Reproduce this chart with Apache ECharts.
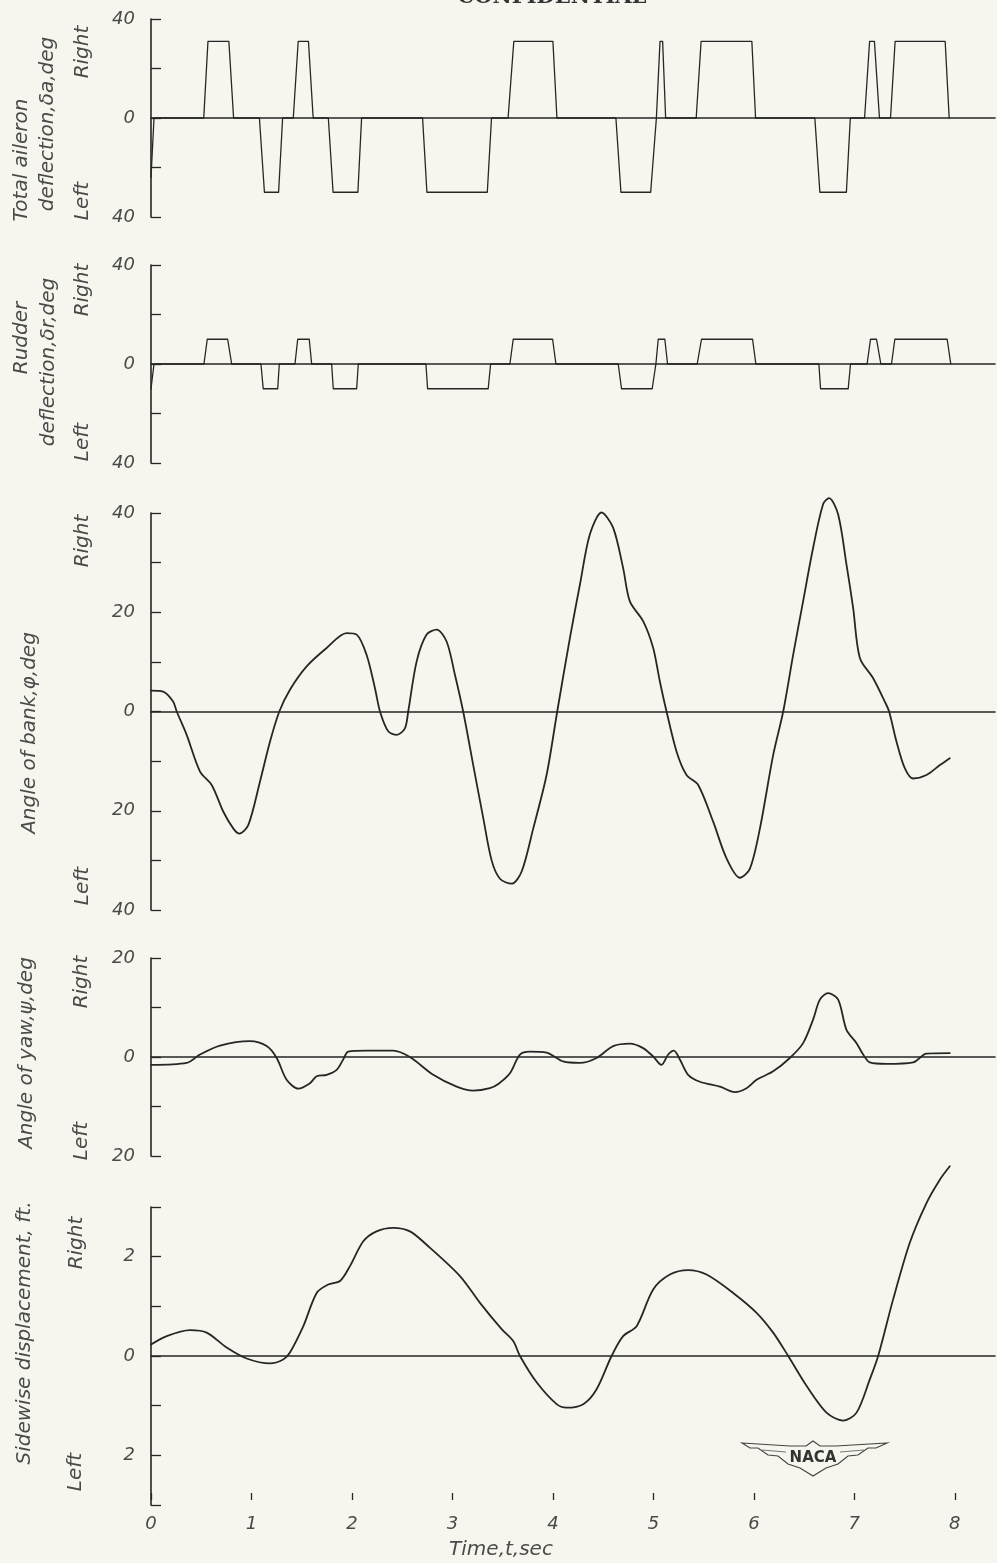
<!DOCTYPE html>
<html><head><meta charset="utf-8">
<script src="https://cdn.jsdelivr.net/npm/echarts@6/dist/echarts.min.js"></script>
<style>html,body{margin:0;padding:0;background:#f6f6ef}#c{width:997px;height:1563px}</style>
</head><body><div id="c"></div>
<script>
// ---- tick labels ----
const timeTicks = [0,1,2,3,4,5,6,7,8];
const aileronLabels = [-40,0,40];
const rudderLabels = [-40,0,40];
const bankLabels = [-40,-20,0,20,40];
const yawLabels = [-20,0,20];
const sideLabels = [-2,0,2];

// ---- series values: [time sec, value] ----
const aileron = [[0,-24],[0.03,0],[0.525,0],[0.567,31],[0.775,31],[0.822,0],
 [1.079,0],[1.129,-30],[1.270,-30],[1.310,0],
 [1.416,0],[1.465,31],[1.567,31],[1.614,0],
 [1.765,0],[1.812,-30],[2.059,-30],[2.096,0],
 [2.703,0],[2.746,-30],[3.347,-30],[3.389,0],
 [3.554,0],[3.611,31],[4.0,31],[4.04,0],
 [4.627,0],[4.677,-30],[4.973,-30],[5.03,0],[5.066,31],[5.092,31],[5.122,0],
 [5.426,0],[5.475,31],[5.98,31],[6.017,0],
 [6.607,0],[6.657,-30],[6.921,-30],[6.96,0],
 [7.102,0],[7.152,31],[7.2,31],[7.25,0],
 [7.36,0],[7.406,31],[7.904,31],[7.944,0]];

const rudder = [[0,-10],[0.03,0],[0.527,0],[0.56,10],[0.763,10],[0.803,0],
 [1.094,0],[1.117,-10],[1.261,-10],[1.277,0],
 [1.433,0],[1.46,10],[1.575,10],[1.599,0],
 [1.798,0],[1.814,-10],[2.047,-10],[2.063,0],
 [2.736,0],[2.753,-10],[3.356,-10],[3.38,0],
 [3.572,0],[3.605,10],[3.997,10],[4.03,0],
 [4.65,0],[4.683,-10],[4.988,-10],[5.025,0],[5.048,10],[5.114,10],[5.141,0],
 [5.436,0],[5.479,10],[5.987,10],[6.02,0],
 [6.647,0],[6.664,-10],[6.939,-10],[6.962,0],
 [7.127,0],[7.161,10],[7.221,10],[7.264,0],
 [7.37,0],[7.403,10],[7.924,10],[7.96,0]];

const bank = [[0.0,4.2],[0.12,4.0],[0.22,2.0],[0.256,0],[0.355,-4.7],[0.488,-12.1],[0.604,-14.8],[0.72,-20.2],[0.82,-23.6],[0.879,-24.6],[0.968,-22.9],[1.085,-14.1],[1.184,-6.1],[1.277,0],[1.383,4.4],[1.549,9.1],[1.748,12.8],[1.947,15.8],[2.047,15.5],[2.146,11.4],[2.229,4.7],[2.279,0],[2.361,-4.0],[2.445,-4.7],[2.527,-3.4],[2.56,0],[2.644,10.1],[2.743,15.5],[2.843,16.5],[2.942,14.1],[3.025,7.4],[3.107,0],[3.207,-10.8],[3.307,-21.5],[3.39,-30],[3.473,-33.7],[3.589,-34.7],[3.688,-32.3],[3.804,-23.6],[3.937,-12.8],[4.043,0],[4.169,14.8],[4.269,25.6],[4.368,35.7],[4.484,40.1],[4.6,37.0],[4.699,28.9],[4.766,22.2],[4.898,18.2],[4.998,12.8],[5.064,6.1],[5.131,0],[5.231,-8.1],[5.33,-12.8],[5.446,-14.8],[5.595,-22.2],[5.728,-29.6],[5.861,-33.5],[5.96,-31.7],[6.06,-23.6],[6.192,-8.8],[6.292,0],[6.391,11.4],[6.49,22.2],[6.59,33],[6.69,41.8],[6.749,43],[6.839,39.7],[6.922,29.6],[6.988,20.9],[7.055,10.8],[7.187,6.7],[7.303,2.0],[7.346,0],[7.42,-6.1],[7.502,-11.4],[7.585,-13.5],[7.718,-12.8],[7.851,-10.8],[7.95,-9.4]];

const yaw = [[0,-1.6],[0.355,-1.2],[0.488,0.5],[0.687,2.3],[0.985,3.2],[1.151,2.2],[1.251,-0.2],[1.35,-4.6],[1.466,-6.4],[1.582,-5.3],[1.649,-3.9],[1.748,-3.6],[1.848,-2.6],[1.913,-0.5],[1.963,1.1],[2.146,1.3],[2.411,1.3],[2.577,0],[2.809,-3.6],[3.042,-6.0],[3.207,-6.8],[3.373,-6.3],[3.46,-5.4],[3.572,-3.3],[3.672,0.5],[3.771,1.1],[3.937,0.9],[4.103,-0.9],[4.269,-1.2],[4.435,-0.2],[4.6,2.2],[4.766,2.7],[4.898,1.8],[4.998,0.1],[5.081,-1.6],[5.147,0.5],[5.204,1.3],[5.264,-0.5],[5.346,-3.6],[5.463,-5.0],[5.662,-6.0],[5.811,-7.1],[5.927,-6.3],[6.027,-4.6],[6.192,-2.9],[6.358,-0.2],[6.49,2.8],[6.59,7.6],[6.657,11.6],[6.739,12.9],[6.839,11.6],[6.922,5.5],[7.022,2.8],[7.088,0.5],[7.154,-1.1],[7.32,-1.4],[7.585,-1.1],[7.718,0.7],[7.95,0.8]];

const sidewise = [[0,0.23],[0.156,0.40],[0.388,0.52],[0.554,0.47],[0.753,0.17],[0.952,-0.05],[1.184,-0.15],[1.316,-0.07],[1.383,0.07],[1.516,0.6],[1.649,1.27],[1.764,1.44],[1.881,1.51],[1.98,1.81],[2.113,2.31],[2.245,2.51],[2.411,2.58],[2.577,2.51],[2.743,2.24],[3.075,1.61],[3.274,1.07],[3.49,0.54],[3.605,0.30],[3.672,0],[3.838,-0.53],[4.037,-0.97],[4.136,-1.04],[4.302,-0.97],[4.435,-0.67],[4.584,0],[4.699,0.40],[4.833,0.60],[4.998,1.34],[5.164,1.64],[5.346,1.73],[5.529,1.64],[5.794,1.27],[6.027,0.87],[6.192,0.47],[6.342,0],[6.524,-0.6],[6.723,-1.14],[6.889,-1.30],[7.022,-1.14],[7.154,-0.47],[7.237,0],[7.386,1.14],[7.552,2.28],[7.718,3.08],[7.851,3.55],[7.95,3.82]];

const INK = '#262626', TXT = '#4a4a4a';
const FONT = '"DejaVu Sans"';
const chart = echarts.init(document.getElementById('c'), null, {renderer:'canvas'});

const grids = [
  {top:19, height:198},
  {top:265, height:198},
  {top:513, height:397},
  {top:958, height:198},
  {top:1207, height:298},
  {top:1490, height:10}
].map(g => Object.assign({left:151, width:844, containLabel:false, outerBoundsMode:'none'}, g));

function xAx(i){
  return {type:'value', gridIndex:i, min:0, max:8.4,
    axisLine:{show:true, onZero:true, lineStyle:{color:INK, width:1.6}},
    axisTick:{show:false}, axisLabel:{show:false}, splitLine:{show:false}};
}
function yAx(i, min, max, interval, labels){
  return {type:'value', gridIndex:i, min, max, interval,
    axisLine:{show:true, lineStyle:{color:INK, width:1.6}},
    axisTick:{show:true, inside:true, length:10, lineStyle:{color:INK, width:1.3}},
    splitLine:{show:false},
    axisLabel:{show:true, margin:16, color:TXT, fontSize:18, fontStyle:'italic', fontFamily:'DejaVu Sans',
      showMinLabel:true, showMaxLabel:true,
      formatter: v => labels.indexOf(v) >= 0 ? String(Math.abs(v)) : ''}};
}

const xAxes = [0,1,2,3,4].map(xAx);
xAxes.push({type:'value', gridIndex:5, min:0, max:8.4, interval:1,
  axisLine:{show:false},
  axisTick:{show:true, inside:true, length:7, customValues:timeTicks, lineStyle:{color:INK, width:1.3}},
  axisLabel:{show:true, customValues:timeTicks, margin:15, color:TXT, fontSize:18, fontStyle:'italic', fontFamily:'DejaVu Sans'},
  splitLine:{show:false}});

const yAxes = [
  yAx(0,-40,40,20,aileronLabels),
  yAx(1,-40,40,20,rudderLabels),
  yAx(2,-40,40,10,bankLabels),
  yAx(3,-20,20,10,yawLabels),
  yAx(4,-3,3,1,sideLabels),
  {type:'value', gridIndex:5, min:0, max:1, show:false}
];

function ser(i, data, smooth, w){
  return {type:'line', xAxisIndex:i, yAxisIndex:i, data, showSymbol:false, symbol:'none',
    smooth:smooth, clip:false, silent:true,
    lineStyle:{color:INK, width:w, join:'round', cap:'round'}};
}

function vtext(x, y, text, size){
  return {type:'text', x, y, rotation:Math.PI/2,
    style:{text, fill:TXT, font:'italic '+size+'px '+FONT,
      textAlign:'center', textVerticalAlign:'middle', align:'center', verticalAlign:'middle'}};
}
function htext(x, y, text, font, fill){
  return {type:'text', x, y,
    style:{text, fill:fill||TXT, font,
      textAlign:'center', textVerticalAlign:'middle', align:'center', verticalAlign:'middle'}};
}

const graphics = [
  htext(552, -2, 'CONFIDENTIAL', 'bold 21px "DejaVu Serif"', '#333'),
  // panel 1
  vtext(22, 160, 'Total aileron', 20),
  vtext(48, 124, 'deflection,δa,deg', 20),
  vtext(83, 52, 'Right', 20),
  vtext(83, 201, 'Left', 20),
  // panel 2
  vtext(22, 338, 'Rudder', 20),
  vtext(49, 362, 'deflection,δr,deg', 20),
  vtext(83, 290, 'Right', 20),
  vtext(83, 442, 'Left', 20),
  // panel 3
  vtext(30, 733, 'Angle of bank,φ,deg', 20),
  vtext(83, 541, 'Right', 20),
  vtext(83, 886, 'Left', 20),
  // panel 4
  vtext(27, 1053, 'Angle of yaw,ψ,deg', 20),
  vtext(82, 982, 'Right', 20),
  vtext(82, 1141, 'Left', 20),
  // panel 5
  vtext(25, 1333, 'Sidewise displacement, ft.', 20),
  vtext(77, 1243, 'Right', 20),
  vtext(76, 1472, 'Left', 20),
  // x axis title
  htext(501, 1550, 'Time,t,sec', 'italic 20px '+FONT),
  // NACA logo
  {type:'polygon', shape:{points:[[742,1443],[790,1446],[806,1446],[813,1441],[820,1446],[836,1446],[887,1443],
     [876,1448],[868,1448],[858,1455],[848,1456],[838,1464],[826,1468],[813,1476],[800,1468],[788,1464],[778,1456],[768,1455],[758,1448],[750,1448]]},
   style:{fill:'none', stroke:'#444', lineWidth:1.2}},
  {type:'polyline', shape:{points:[[762,1450],[786,1452]]}, style:{stroke:'#555', lineWidth:0.8, fill:'none'}},
  {type:'polyline', shape:{points:[[864,1450],[840,1452]]}, style:{stroke:'#555', lineWidth:0.8, fill:'none'}},
  htext(813, 1458, 'NACA', 'bold 15px '+FONT, '#333')
];

chart.setOption({
  animation:false,
  backgroundColor:'#f6f6ef',
  grid:grids,
  xAxis:xAxes,
  yAxis:yAxes,
  series:[
    ser(0, aileron, false, 1.3),
    ser(1, rudder, false, 1.3),
    ser(2, bank, 0.3, 1.8),
    ser(3, yaw, 0.3, 1.8),
    ser(4, sidewise, 0.3, 1.8)
  ],
  graphic:graphics
});
</script>
</body></html>
